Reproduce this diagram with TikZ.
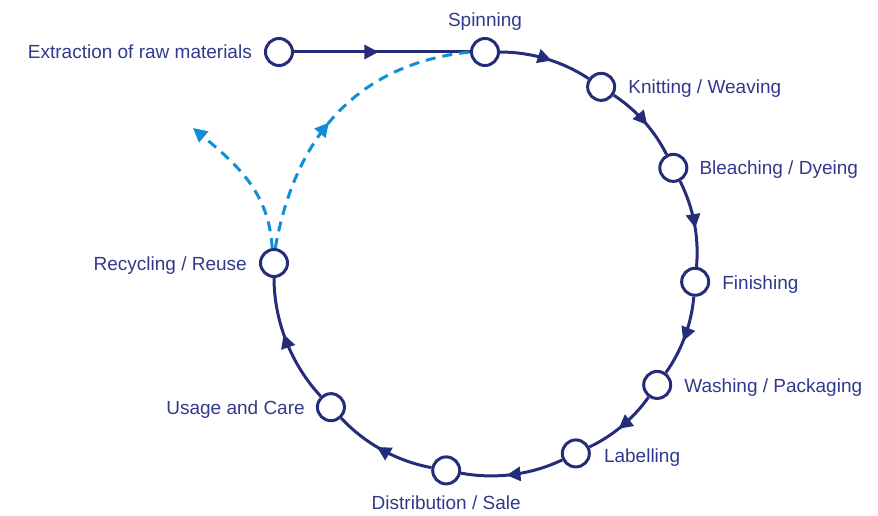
\documentclass[tikz,border=0pt]{standalone}
\usepackage{fontspec}
\setmainfont{Liberation Sans}
\usetikzlibrary{arrows.meta,decorations.markings,calc}
\definecolor{navy}{RGB}{37,44,122}
\definecolor{txt}{RGB}{48,58,140}
\definecolor{cyanb}{RGB}{16,144,210}
\begin{document}
\begin{tikzpicture}[x=1pt,y=1pt,
  stage/.style={circle,draw=navy,line width=3pt,fill=white,minimum size=27pt,inner sep=0pt},
  lbl/.style={text=txt,font=\fontsize{19}{23}\selectfont,inner sep=0pt},
  tip/.style={},
  flow/.style={color=navy,line width=3pt,postaction={decorate},
    decoration={markings,mark=at position #1 with {\arrow{Triangle[length=14pt,width=14pt]}}}},
  flow/.default=0.56,
  recyc/.style={color=cyanb,line width=3pt,dash pattern=on 10pt off 7pt},
  recycmid/.style={recyc,postaction={decorate},
    decoration={markings,mark=at position #1 with {\arrow{Triangle[length=14pt,width=14pt]}}}}
]
\useasboundingbox (0,0) rectangle (878,-516);
\coordinate (C) at (485,-263);
\node[stage] (ext)  at (279,-52) {};
\node[stage] (spin) at ($(C)+(90:211)$) {};
\node[stage] (knit) at ($(C)+(56.6:211)$) {};
\node[stage] (blea) at ($(C)+(26.8:211)$) {};
\node[stage] (fini) at ($(C)+(-5.1:211)$) {};
\node[stage] (wash) at ($(C)+(-35.3:211)$) {};
\node[stage] (labl) at ($(C)+(-64.5:211)$) {};
\node[stage] (dist) at ($(C)+(-100.6:211)$) {};
\node[stage] (usag) at ($(C)+(-136.9:211)$) {};
\node[stage] (recy) at ($(C)+(180:211)$) {};
\coordinate (reuseEnd) at (193,-128);

\draw[flow=0.48] (ext) -- (spin);
\draw[flow] (spin) to[bend left=16.7,looseness=0.87] (knit);
\draw[flow] (knit) to[bend left=14.9,looseness=0.87] (blea);
\draw[flow] (blea) to[bend left=16,looseness=0.87] (fini);
\draw[flow] (fini) to[bend left=15.1,looseness=0.87] (wash);
\draw[flow] (wash) to[bend left=14.6,looseness=0.87] (labl);
\draw[flow] (labl) to[bend left=18,looseness=0.87] (dist);
\draw[flow] (dist) to[bend left=18.2,looseness=0.87] (usag);
\draw[flow] (usag) to[bend left=21.5,looseness=0.87] (recy);

\draw[recycmid=0.46] (recy.85) to[out=80,in=186,looseness=1.05] (spin.west);
\draw[recyc,-{Triangle[length=14pt,width=14pt]}] (recy.97) to[out=93,in=-40] (reuseEnd);

\node[lbl,anchor=base east] (t-ext)  at ($(ext.west)+(-12,-7)$) {Extraction of raw materials};
\node[lbl,anchor=base]      (t-spin) at ($(spin.north)+(0,10)$) {Spinning};
\node[lbl,anchor=base west] (t-knit) at ($(knit.east)+(12,-7)$) {Knitting / Weaving};
\node[lbl,anchor=base west] (t-blea) at ($(blea.east)+(11,-7)$) {Bleaching / Dyeing};
\node[lbl,anchor=base west] (t-fini) at ($(fini.east)+(12,-8)$) {Finishing};
\node[lbl,anchor=base west] (t-wash) at ($(wash.east)+(12,-8)$) {Washing / Packaging};
\node[lbl,anchor=base west] (t-labl) at ($(labl.east)+(13,-9)$) {Labelling};
\node[lbl,anchor=base]      (t-dist) at ($(dist.south)+(0,-24)$) {Distribution / Sale};
\node[lbl,anchor=base east] (t-usag) at ($(usag.west)+(-11,-7)$) {Usage and Care};
\node[lbl,anchor=base east] (t-recy) at ($(recy.west)+(-12,-7)$) {Recycling / Reuse};
\end{tikzpicture}
\end{document}
